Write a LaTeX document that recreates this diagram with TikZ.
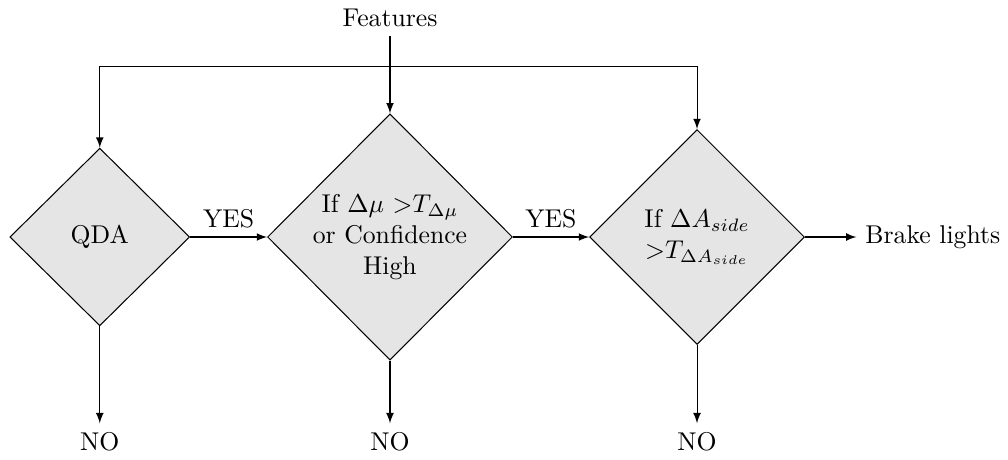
\documentclass[tikz,border=0pt]{standalone}
\usetikzlibrary{shapes.geometric,arrows}

\begin{document}
\begin{tikzpicture}[
        every node/.style={font=\normalsize},
        decision/.style={diamond, draw, fill=gray!20, aspect=1, align=center, inner sep=0pt},
        arrow/.style={-latex}
    ]

    \useasboundingbox (-5.335,-3.037) rectangle (8.454,3.242);

    % =====================================================
    % Decision diamonds
    % =====================================================
    \node[decision, minimum width=2.46cm, minimum height=2.43cm] (qda) at (-3.97,0) {QDA};

    \node[decision, minimum width=3.35cm, minimum height=3.37cm] (meanchk) at (0,0)
    {If $\Delta\mu$ $>$$T_{\Delta\mu}$\\ or Confidence\\ High};

    \node[decision, minimum width=2.94cm, minimum height=2.94cm] (sidechk) at (4.2,0)
    {If $\Delta A_{side}$\\ $>$$T_{\Delta A_{side}}$};

    % =====================================================
    % Input and outputs
    % =====================================================
    \node (features) at (0,3.0) {Features};
    \coordinate (split) at (0,2.33);

    \node[right] (brake) at (6.38,0) {Brake lights};

    \node (noqda) at (-3.97,-2.80) {NO};
    \node (nomean) at (0,-2.80) {NO};
    \node (noside) at (4.2,-2.80) {NO};

    % =====================================================
    % Connections
    % =====================================================
    \draw[arrow] (features) -- (meanchk.north);
    \draw[arrow] (split) -| (qda.north);
    \draw[arrow] (split) -| (sidechk.north);

    \draw[arrow] (qda.east) -- node[above] {YES} (meanchk.west);
    \draw[arrow] (meanchk.east) -- node[above] {YES} (sidechk.west);
    \draw[arrow] (sidechk.east) -- (brake.west);

    % NO branches
    \draw[arrow] (qda.south) -- (noqda.north);
    \draw[arrow] (meanchk.south) -- (nomean.north);
    \draw[arrow] (sidechk.south) -- (noside.north);

\end{tikzpicture}
\end{document}
